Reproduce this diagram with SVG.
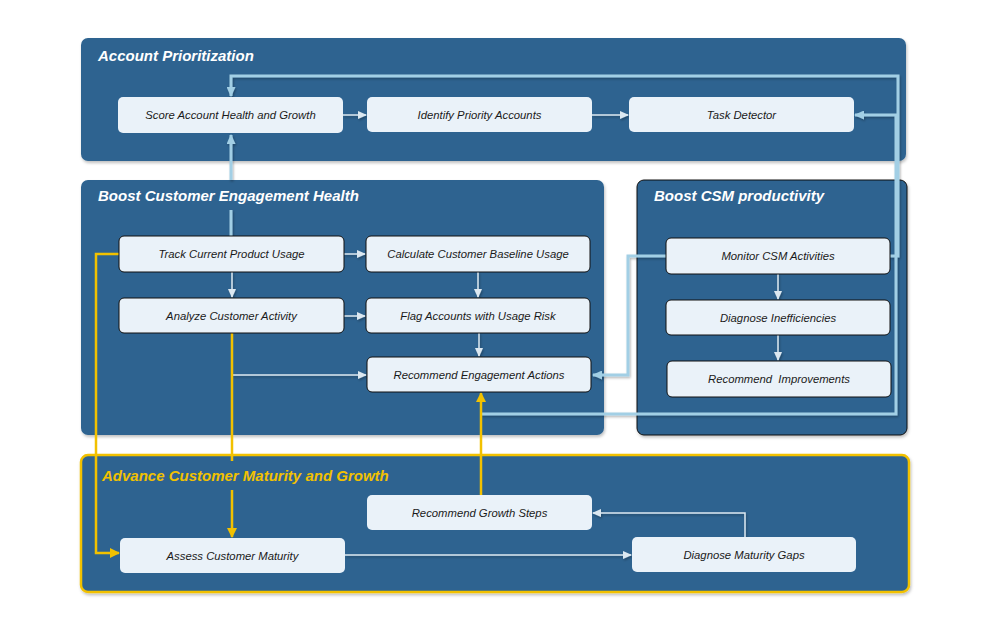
<svg xmlns="http://www.w3.org/2000/svg" width="993" height="632" viewBox="0 0 993 632">
  <defs>
    <style>
      .panel { fill: #2D6390; }
      .title { font-family: "Liberation Sans", Arial, sans-serif; font-size: 15px; font-weight: bold; font-style: italic; fill: #FFFFFF; }
      .title-y { fill: #F2C100; }
      .node { fill: #EAF2F9; }
      .node-b { fill: #EAF2F9; stroke: #111111; stroke-width: 1; }
      .label { font-family: "Liberation Sans", Arial, sans-serif; font-size: 11.3px; font-style: italic; fill: #1A1A1A; text-anchor: middle; dominant-baseline: central; }
      .c-white { fill: none; stroke: #DCE8F1; stroke-width: 1.5; }
      .c-blue { fill: none; stroke: #A2CFE5; stroke-width: 3; }
      .c-yellow { fill: none; stroke: #F2C100; stroke-width: 2.5; }
    </style>
    <filter id="shadow" x="-5%" y="-5%" width="110%" height="115%">
      <feDropShadow dx="1" dy="2" stdDeviation="1.5" flood-color="#000000" flood-opacity="0.25"/>
    </filter>
    <filter id="lshadow" x="-5%" y="-5%" width="110%" height="110%">
      <feDropShadow dx="1" dy="1.5" stdDeviation="1" flood-color="#000000" flood-opacity="0.3"/>
    </filter>
    <marker id="aw" markerWidth="9" markerHeight="8" refX="8" refY="4" orient="auto" markerUnits="userSpaceOnUse">
      <path d="M0,0 L9,4 L0,8 Z" fill="#DCE8F1"/>
    </marker>
    <marker id="ab" markerWidth="10" markerHeight="9" refX="9" refY="4.5" orient="auto" markerUnits="userSpaceOnUse">
      <path d="M0,0 L10,4.5 L0,9 Z" fill="#A2CFE5"/>
    </marker>
    <marker id="ay" markerWidth="10" markerHeight="10" refX="9" refY="5" orient="auto" markerUnits="userSpaceOnUse">
      <path d="M0,0 L10,5 L0,10 Z" fill="#F2C100"/>
    </marker>
  </defs>

  <rect width="993" height="632" fill="#FFFFFF"/>

  <!-- Swimlane panels -->
  <g id="panel-account-prioritization">
    <rect class="panel" x="81" y="38" width="825" height="123" rx="7" filter="url(#shadow)"/>
    <text class="title" x="98" y="61">Account Prioritization</text>
  </g>
  <g id="panel-engagement-health">
    <rect class="panel" x="81" y="180" width="523" height="255" rx="7" filter="url(#shadow)"/>
  </g>
  <g id="panel-csm-productivity">
    <rect class="panel" x="637" y="180" width="270" height="255" rx="7" stroke="#111111" stroke-width="1" filter="url(#shadow)"/>
    <text class="title" x="654" y="201">Boost CSM productivity</text>
  </g>
  <g id="panel-maturity-growth">
    <rect class="panel" x="81" y="455" width="828" height="137" rx="7" stroke="#F2C100" stroke-width="2.5" filter="url(#shadow)"/>
  </g>

  <!-- Connectors -->
  <g id="connectors">
    <g filter="url(#lshadow)">
      <!-- light blue feedback routes -->
      <path class="c-blue" d="M231,236 V210"/>
      <path class="c-blue" d="M231,180 V135" marker-end="url(#ab)"/>
      <path class="c-blue" d="M890,256 H898 V76 H231 V96" marker-end="url(#ab)"/>
      <path class="c-blue" d="M666,256 H628 V375 H593" marker-end="url(#ab)"/>
      <path class="c-blue" d="M481,414 H896 V115 H855" marker-end="url(#ab)"/>
    </g>
    <g filter="url(#lshadow)">
      <!-- white flow arrows -->
      <path class="c-white" d="M343,115 H366" marker-end="url(#aw)"/>
      <path class="c-white" d="M592,115 H628" marker-end="url(#aw)"/>
      <path class="c-white" d="M344,254 H365" marker-end="url(#aw)"/>
      <path class="c-white" d="M232,272 V297" marker-end="url(#aw)"/>
      <path class="c-white" d="M478,272 V297" marker-end="url(#aw)"/>
      <path class="c-white" d="M344,316 H365" marker-end="url(#aw)"/>
      <path class="c-white" d="M479,333 V356" marker-end="url(#aw)"/>
      <path class="c-white" d="M232,375 H366" marker-end="url(#aw)"/>
      <path class="c-white" d="M778,274 V299" marker-end="url(#aw)"/>
      <path class="c-white" d="M778,335 V360" marker-end="url(#aw)"/>
      <path class="c-white" d="M345,555 H631" marker-end="url(#aw)"/>
      <path class="c-white" d="M745,537 V513 H593" marker-end="url(#aw)"/>
    </g>
    <!-- yellow maturity routes -->
    <path class="c-yellow" d="M119,254 H96 V553 H119" marker-end="url(#ay)"/>
    <path class="c-yellow" d="M232,333 V461"/>
    <path class="c-yellow" d="M232,490 V537" marker-end="url(#ay)"/>
    <path class="c-yellow" d="M481,495 V393" marker-end="url(#ay)"/>
  </g>

  <!-- Panel titles drawn over the connectors -->
  <text class="title" x="98" y="201">Boost Customer Engagement Health</text>
  <text class="title title-y" x="102" y="481">Advance Customer Maturity and Growth</text>

  <!-- Account Prioritization nodes -->
  <g id="score-account-health">
    <rect class="node" x="118" y="97" width="225" height="36" rx="5"/>
    <text class="label" x="230.5" y="115">Score Account Health and Growth</text>
  </g>
  <g id="identify-priority-accounts">
    <rect class="node" x="367" y="97" width="225" height="35" rx="5"/>
    <text class="label" x="479.5" y="115">Identify Priority Accounts</text>
  </g>
  <g id="task-detector">
    <rect class="node" x="629" y="97" width="225" height="35" rx="5"/>
    <text class="label" x="741.5" y="115">Task Detector</text>
  </g>

  <!-- Engagement Health nodes -->
  <g id="track-product-usage">
    <rect class="node-b" x="119" y="236" width="225" height="36" rx="5"/>
    <text class="label" x="231.5" y="254">Track Current Product Usage</text>
  </g>
  <g id="calculate-baseline-usage">
    <rect class="node-b" x="366" y="236" width="224" height="36" rx="5"/>
    <text class="label" x="478" y="254">Calculate Customer Baseline Usage</text>
  </g>
  <g id="analyze-customer-activity">
    <rect class="node-b" x="119" y="298" width="225" height="35" rx="5"/>
    <text class="label" x="231.5" y="316">Analyze Customer Activity</text>
  </g>
  <g id="flag-usage-risk">
    <rect class="node-b" x="366" y="298" width="224" height="35" rx="5"/>
    <text class="label" x="478" y="316">Flag Accounts with Usage Risk</text>
  </g>
  <g id="recommend-engagement-actions">
    <rect class="node-b" x="367" y="357" width="224" height="35" rx="5"/>
    <text class="label" x="479" y="374.5">Recommend Engagement Actions</text>
  </g>

  <!-- CSM productivity nodes -->
  <g id="monitor-csm-activities">
    <rect class="node-b" x="666" y="238" width="224" height="36" rx="5"/>
    <text class="label" x="778" y="256">Monitor CSM Activities</text>
  </g>
  <g id="diagnose-inefficiencies">
    <rect class="node-b" x="666" y="300" width="224" height="35" rx="5"/>
    <text class="label" x="778" y="317.5">Diagnose Inefficiencies</text>
  </g>
  <g id="recommend-improvements">
    <rect class="node-b" x="667" y="361" width="224" height="36" rx="5"/>
    <text class="label" x="779" y="379" xml:space="preserve">Recommend  Improvements</text>
  </g>

  <!-- Maturity and Growth nodes -->
  <g id="recommend-growth-steps">
    <rect class="node" x="367" y="495" width="225" height="35" rx="5"/>
    <text class="label" x="479.5" y="513">Recommend Growth Steps</text>
  </g>
  <g id="assess-customer-maturity">
    <rect class="node" x="120" y="538" width="225" height="35" rx="5"/>
    <text class="label" x="232.5" y="556">Assess Customer Maturity</text>
  </g>
  <g id="diagnose-maturity-gaps">
    <rect class="node" x="632" y="537" width="224" height="35" rx="5"/>
    <text class="label" x="744" y="555">Diagnose Maturity Gaps</text>
  </g>
</svg>
